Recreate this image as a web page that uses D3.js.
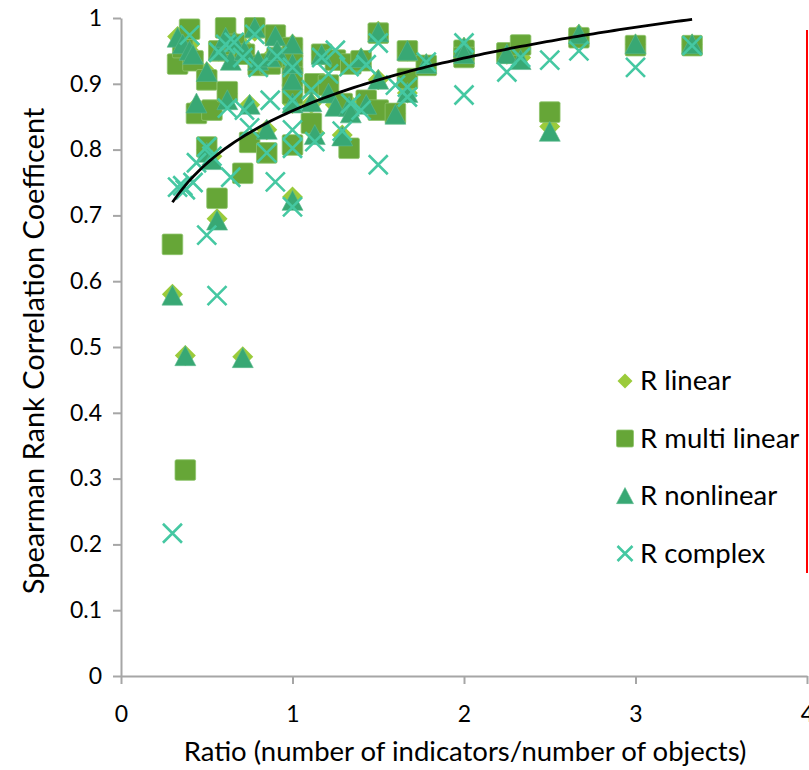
<!DOCTYPE html>
<html>
<head>
<meta charset="utf-8">
<script src="https://cdn.jsdelivr.net/npm/d3@7"></script>
<style>
  body { margin: 0; background: #fff; }
  svg { display: block; font-family: Lato, "Open Sans", sans-serif; }
</style>
</head>
<body>
<div id="chart"></div>
<script>
// ratio = number of indicators / number of objects
const ratios = [
  0.30, 0.33, 0.36, 0.375, 0.40, 0.42, 0.44, 0.50, 0.50, 0.53,
  0.56, 0.57, 0.61, 0.62, 0.64, 0.66, 0.71, 0.72, 0.75, 0.78,
  0.80, 0.85, 0.87, 0.90, 0.91, 1.00, 1.00, 1.00, 1.00, 1.00,
  1.11, 1.13, 1.17, 1.21, 1.25, 1.29, 1.33, 1.34, 1.40, 1.43,
  1.50, 1.50, 1.60, 1.67, 1.67, 1.78, 2.00, 2.00, 2.25, 2.33,
  2.50, 2.67, 3.00, 3.33
];
const rLinear = [
  0.580, 0.972, 0.960, 0.487, 0.960, 0.944, 0.865, 0.918, 0.800, 0.790,
  0.695, 0.950, 0.975, 0.885, 0.940, 0.965, 0.485, 0.955, 0.868, 0.980,
  0.930, 0.830, 0.940, 0.972, 0.940, 0.728, 0.900, 0.930, 0.870, 0.960,
  0.870, 0.825, 0.944, 0.890, 0.868, 0.822, 0.870, 0.860, 0.939, 0.870,
  0.980, 0.906, 0.855, 0.950, 0.886, 0.930, 0.955, 0.945, 0.945, 0.940,
  0.835, 0.975, 0.960, 0.960
];
const rMultiLinear = [
  0.656, 0.930, 0.955, 0.313, 0.983, 0.935, 0.855, 0.906, 0.804, 0.860,
  0.726, 0.950, 0.985, 0.888, 0.955, 0.960, 0.764, 0.945, 0.811, 0.985,
  0.928, 0.795, 0.930, 0.974, 0.940, 0.807, 0.955, 0.885, 0.930, 0.910,
  0.840, 0.900, 0.945, 0.898, 0.936, 0.870, 0.802, 0.930, 0.935, 0.875,
  0.977, 0.860, 0.855, 0.950, 0.908, 0.928, 0.951, 0.940, 0.947, 0.959,
  0.857, 0.970, 0.958, 0.958
];
const rNonlinear = [
  0.578, 0.970, 0.960, 0.486, 0.950, 0.944, 0.870, 0.918, 0.795, 0.784,
  0.692, 0.950, 0.970, 0.875, 0.935, 0.963, 0.483, 0.950, 0.868, 0.985,
  0.935, 0.830, 0.940, 0.972, 0.950, 0.722, 0.905, 0.930, 0.870, 0.960,
  0.872, 0.822, 0.944, 0.885, 0.865, 0.820, 0.865, 0.855, 0.939, 0.868,
  0.978, 0.906, 0.853, 0.950, 0.886, 0.930, 0.955, 0.945, 0.945, 0.936,
  0.827, 0.975, 0.960, 0.960
];
const rComplex = [
  0.217, 0.743, 0.745, 0.739, 0.974, 0.750, 0.780, 0.804, 0.670, 0.790,
  0.578, 0.948, 0.960, 0.863, 0.758, 0.963, 0.940, 0.860, 0.833, 0.975,
  0.925, 0.795, 0.875, 0.751, 0.942, 0.713, 0.802, 0.925, 0.875, 0.830,
  0.891, 0.812, 0.940, 0.915, 0.951, 0.828, 0.926, 0.870, 0.860, 0.929,
  0.962, 0.777, 0.898, 0.880, 0.895, 0.933, 0.962, 0.883, 0.918, 0.940,
  0.936, 0.950, 0.925, 0.958
];

// logarithmic trendline y = a + b ln(x)
const trendA = 0.859;
const trendB = 0.1155;
const trendRange = [0.30, 3.33];

const xTicks = [0, 1, 2, 3, 4];
const yTicks = [0, 0.1, 0.2, 0.3, 0.4, 0.5, 0.6, 0.7, 0.8, 0.9, 1];

const seriesNames = ["R linear", "R multi linear", "R nonlinear", "R complex"];

const width = 809, height = 770;
const plotLeft = 121, plotRight = 807, plotTop = 18, plotBottom = 676;

const svg = d3.select("#chart").append("svg")
  .attr("width", width)
  .attr("height", height);

const x = d3.scaleLinear().domain([0, 4]).range([plotLeft, plotRight]);
const y = d3.scaleLinear().domain([0, 1]).range([plotBottom, plotTop]);

const axisColor = "#a6a6a6";

// axes
const xAxis = svg.append("g")
  .attr("transform", `translate(0,${plotBottom})`)
  .call(d3.axisBottom(x).tickValues(xTicks).tickSize(8).tickSizeOuter(0).tickPadding(22).tickFormat(d3.format("d")));
const yAxis = svg.append("g")
  .attr("transform", `translate(${plotLeft},0)`)
  .call(d3.axisLeft(y).tickValues(yTicks).tickSize(8).tickSizeOuter(0).tickPadding(11).tickFormat(d => String(+d.toFixed(1))));

[xAxis, yAxis].forEach(g => {
  g.select(".domain").attr("stroke", axisColor).attr("stroke-width", 2);
  g.selectAll(".tick line").attr("stroke", axisColor).attr("stroke-width", 2);
  g.selectAll(".tick text")
    .attr("fill", "#000")
    .style("font-size", "23px")
    .style("font-family", "Lato, sans-serif");
});

// axis titles
svg.append("text")
  .attr("x", 465)
  .attr("y", 761)
  .attr("text-anchor", "middle")
  .style("font-size", "27.5px")
  .text("Ratio (number of indicators/number of objects)");

svg.append("text")
  .attr("transform", `translate(44,351) rotate(-90)`)
  .attr("text-anchor", "middle")
  .style("font-size", "29px")
  .text("Spearman Rank Correlation Coefficent");

// red border line at the right
svg.append("line")
  .attr("x1", 807).attr("x2", 807)
  .attr("y1", 30).attr("y2", 573)
  .attr("stroke", "#ff0000")
  .attr("stroke-width", 2);

// marker shapes
const colors = {
  lin: "#9bcb3b",
  multi: "#66a637",
  nonlin: "#38a874",
  complex: "#45c8a2"
};

function diamond(g, cx, cy, r) {
  g.append("path")
    .attr("d", `M${cx},${cy - r}L${cx + r},${cy}L${cx},${cy + r}L${cx - r},${cy}Z`)
    .attr("fill", colors.lin);
}
function square(g, cx, cy, r) {
  g.append("rect")
    .attr("x", cx - r).attr("y", cy - r)
    .attr("width", 2 * r).attr("height", 2 * r)
    .attr("rx", 1.5)
    .attr("fill", colors.multi)
    .attr("stroke", "#8ec46c")
    .attr("stroke-width", 0.8);
}
function triangle(g, cx, cy, r) {
  g.append("path")
    .attr("d", `M${cx},${cy - r}L${cx + r},${cy + r * 0.9}L${cx - r},${cy + r * 0.9}Z`)
    .attr("fill", colors.nonlin)
    .attr("stroke", "#5dbb8e")
    .attr("stroke-width", 0.6);
}
function cross(g, cx, cy, r) {
  g.append("path")
    .attr("d", `M${cx - r},${cy - r}L${cx + r},${cy + r}M${cx - r},${cy + r}L${cx + r},${cy - r}`)
    .attr("stroke", colors.complex)
    .attr("stroke-width", 2.6)
    .attr("fill", "none");
}

const pts = svg.append("g");
const drawSeries = [
  { vals: rLinear, fn: diamond, r: 10.5 },
  { vals: rMultiLinear, fn: square, r: 10.3 },
  { vals: rNonlinear, fn: triangle, r: 10.5 },
  { vals: rComplex, fn: cross, r: 9.5 }
];
drawSeries.forEach(s => {
  const g = pts.append("g");
  ratios.forEach((r, i) => s.fn(g, x(r), y(s.vals[i]), s.r));
});

// trendline
const trendX = d3.range(0, 101).map(i => trendRange[0] + (trendRange[1] - trendRange[0]) * i / 100);
svg.append("path")
  .datum(trendX)
  .attr("fill", "none")
  .attr("stroke", "#000")
  .attr("stroke-width", 2.8)
  .attr("d", d3.line().x(d => x(d)).y(d => y(trendA + trendB * Math.log(d))));

// legend
const legend = svg.append("g");
const legendFns = [diamond, square, triangle, cross];
const legendR = [7.5, 8.5, 8.5, 7.5];
seriesNames.forEach((name, i) => {
  const cy = 381 + i * 57.5;
  legendFns[i](legend, 625, cy, legendR[i]);
  legend.append("text")
    .attr("x", 640)
    .attr("y", cy + 9)
    .style("font-size", "27.5px")
    .text(name);
});
</script>
</body>
</html>
